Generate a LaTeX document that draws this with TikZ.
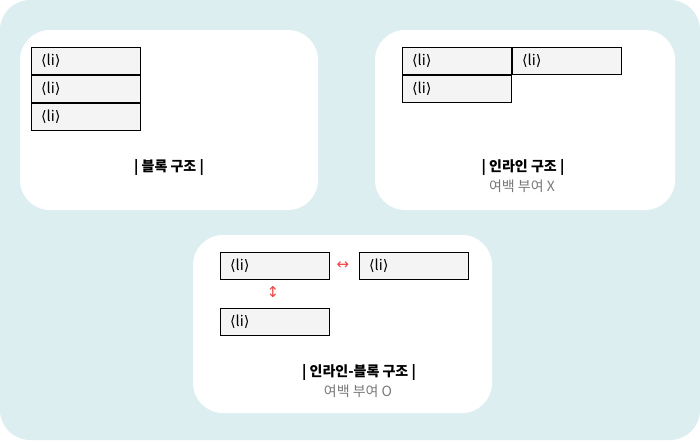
\documentclass[tikz,border=0pt]{standalone}
\usepackage{fontspec}
\setmainfont{Noto Sans CJK KR}
\newfontfamily\symfont{DejaVu Sans}
\definecolor{bgteal}{RGB}{221,238,241}
\definecolor{boxfill}{RGB}{244,244,244}
\definecolor{subgray}{RGB}{120,120,120}
\definecolor{arrred}{RGB}{240,70,70}
\newcommand{\litag}{{\symfont ⟨}li{\symfont ⟩}}
\tikzset{
  panel/.style={fill=white, draw=none, rounded corners=30pt},
  libox/.style={draw=black, line width=1pt, fill=boxfill, minimum height=27pt,
    text width=90pt, inner xsep=9.5pt, inner ysep=0pt, align=left,
    font=\fontsize{14.5pt}{16pt}\selectfont},
  title/.style={font=\fontsize{14pt}{16pt}\selectfont\bfseries, inner sep=0pt},
  subtitle/.style={font=\fontsize{14pt}{16pt}\selectfont, text=subgray, inner sep=0pt},
  marker/.style={font=\symfont\fontsize{15pt}{17pt}\selectfont, text=arrred, inner sep=0pt}
}
\begin{document}
\begin{tikzpicture}[x=1pt,y=-1pt]
\useasboundingbox (0,0) rectangle (700,440);
\fill[bgteal, rounded corners=30pt] (0,0) rectangle (700,440);
% panels
\fill[panel] (20,30) rectangle (318,210);
\fill[panel] (375,30) rectangle (675,210);
\fill[panel] (193,235) rectangle (492,413);
% panel 1: block
\node[libox] (b1) at (86,61) {\litag};
\node[libox] (b2) at (86,89) {\litag};
\node[libox] (b3) at (86,117) {\litag};
\node[title] (t1) at (169,167) {| 블록 구조 |};
% panel 2: inline
\node[libox] (i1) at (457,61) {\litag};
\node[libox] (i2) at (567,61) {\litag};
\node[libox] (i3) at (457,89) {\litag};
\node[title] (t2) at (523,167) {| 인라인 구조 |};
\node[subtitle] (s2) at (522,186) {여백 부여 X};
% panel 3: inline-block
\node[libox] (ib1) at (275,265.5) {\litag};
\node[libox] (ib2) at (414,265.5) {\litag};
\node[libox] (ib3) at (275,321.5) {\litag};
\node[marker] (h) at (343,265.5) {↔};
\node[marker] (v) at (273,292.5) {↕};
\node[title] (t3) at (359,372) {| 인라인-블록 구조 |};
\node[subtitle] (s3) at (358,391) {여백 부여 O};
\end{tikzpicture}
\end{document}
